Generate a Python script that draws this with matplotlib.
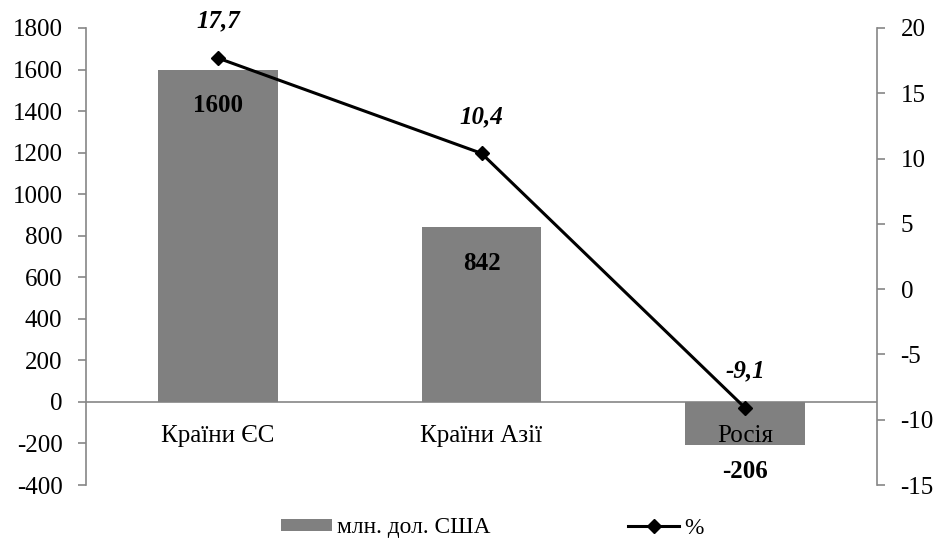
import matplotlib
matplotlib.use("Agg")
import matplotlib.pyplot as plt
from matplotlib.lines import Line2D
from matplotlib.patches import Patch

plt.rcParams['font.family'] = ['Liberation Serif', 'DejaVu Serif']
plt.rcParams['axes.unicode_minus'] = False

categories = ["Країни ЄС", "Країни Азії", "Росія"]
usd_values = [1600, 842, -206]
pct_values = [17.7, 10.4, -9.1]
usd_labels = ["1600", "842", "-206"]
pct_labels = ["17,7", "10,4", "-9,1"]
legend_labels = ["млн. дол. США", "%"]

W, H = 939, 547
fig = plt.figure(figsize=(W / 100, H / 100), dpi=100)
ax = fig.add_axes([86 / W, 1 - 485 / H, (877 - 86) / W, (485 - 28) / H])
ax2 = ax.twinx()

grey = "#868686"
fs = 18

x = list(range(len(categories)))
ax.bar(x, usd_values, width=0.455, color="#808080", zorder=2)
ax.set_xlim(-0.5, len(categories) - 0.5)
ax.set_ylim(-400, 1800)
ax.set_yticks(range(-400, 1801, 200))
ax.axhline(0, color=grey, lw=1.2, zorder=1)

ax.set_xticks([])
for xi, c in zip(x, categories):
    ax.annotate(c, (xi, 0), xytext=(0, -29), textcoords="offset points",
                ha="center", va="baseline", fontsize=fs, zorder=3)

# bar labels
for xi, v, lab in zip(x, usd_values, usd_labels):
    off = -26 if v >= 0 else -19
    ax.annotate(lab, (xi, v), xytext=(0, off), textcoords="offset points",
                ha="center", va="center", fontsize=fs, fontweight="bold")

ax2.plot(x, pct_values, color="black", lw=2.2, marker="D", markersize=7, zorder=5)
ax2.set_ylim(-15, 20)
ax2.set_yticks(range(-15, 21, 5))
for xi, v, lab in zip(x, pct_values, pct_labels):
    ax2.annotate(lab, (xi, v), xytext=(0, 26.5), textcoords="offset points",
                 ha="center", va="center", fontsize=fs, fontweight="bold",
                 fontstyle="italic")

for a in (ax, ax2):
    a.spines["top"].set_visible(False)
    a.spines["bottom"].set_visible(False)
    for s in ("left", "right"):
        a.spines[s].set_color(grey)
        a.spines[s].set_linewidth(1.2)
    a.tick_params(axis="y", colors=grey, labelcolor="black", labelsize=fs,
                  length=6, width=1.2, direction="out", pad=11)
ax.spines["right"].set_visible(False)
ax2.spines["left"].set_visible(False)
ax.tick_params(axis="x", length=0)

handles = [Patch(facecolor="#808080", edgecolor="none"),
           Line2D([0], [0], color="black", lw=2.2, marker="D", markersize=7)]
fig.legend(handles, legend_labels, loc="center", bbox_to_anchor=(492 / W, 1 - 528 / H),
           ncol=2, frameon=False, fontsize=16.8, columnspacing=5.9, handlelength=2.2,
           handletextpad=0.2, handleheight=0.45, borderaxespad=0, borderpad=0)

fig.savefig("out.png", dpi=100)
